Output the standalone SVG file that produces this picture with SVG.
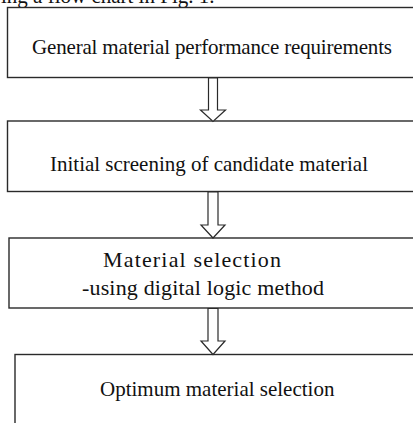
<svg xmlns="http://www.w3.org/2000/svg" width="413" height="423" viewBox="0 0 413 423">
<style>
.box{fill:#fff;stroke:#2a2a2a;stroke-width:1.4}
.arr{fill:#fff;stroke:#2a2a2a;stroke-width:1.2;stroke-linejoin:miter}
.t{font-family:"Liberation Serif","Times New Roman",serif;font-size:21px;fill:#111}
.t3{font-size:22px}
</style>
<rect width="413" height="423" fill="#fff"/>
<text class="t" x="1" y="3">ing a flow chart in Fig. 1.</text>
<g id="node1">
<rect class="box" x="7.5" y="7.5" width="420" height="70"/>
<text class="t" x="32" y="54" textLength="360">General material performance requirements</text>
</g>
<g id="node2">
<rect class="box" x="7.5" y="121" width="420" height="70.5"/>
<text class="t" x="50" y="170.5" textLength="318">Initial screening of candidate material</text>
</g>
<g id="node3">
<rect class="box" x="9" y="238" width="420" height="70"/>
<text class="t t3" x="103" y="267" textLength="178">Material selection</text>
<text class="t t3" x="82" y="295" textLength="242">-using digital logic method</text>
</g>
<g id="node4">
<rect class="box" x="15" y="354.5" width="420" height="90"/>
<text class="t" x="100" y="396">Optimum material selection</text>
</g>
<g id="connectors">
<path class="arr" d="M208.5,78 L217.5,78 L217.5,110 L225.5,110 L213,121.5 L200.5,110 L208.5,110 Z"/>
<path class="arr" d="M208,192 L218,192 L218,225 L225,225 L213,238 L201,225 L208,225 Z"/>
<path class="arr" d="M208,308.5 L218,308.5 L218,341 L225,341 L213,354.5 L201,341 L208,341 Z"/>
</g>
</svg>
